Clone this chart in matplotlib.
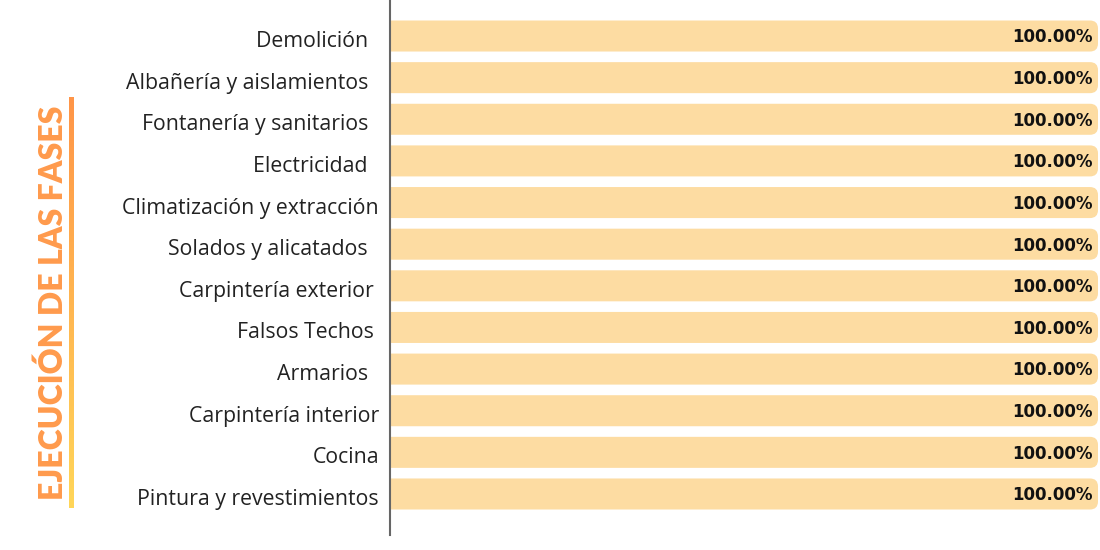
import numpy as np
import matplotlib
matplotlib.use("Agg")
import matplotlib.pyplot as plt
import matplotlib.transforms as mtransforms
from matplotlib.patches import FancyBboxPatch

# fases de la obra y su porcentaje de ejecucion
fases = ["Demolición  ", "Albañería y aislamientos  ", "Fontanería y sanitarios  ",
         "Electricidad  ", "Climatización y extracción", "Solados y alicatados  ",
         "Carpintería exterior ", "Falsos Techos ", "Armarios  ",
         "Carpintería interior", "Cocina", "Pintura y revestimientos"]
ejecucion = [100, 100, 100, 100, 100, 100, 100, 100, 100, 100, 100, 100]

BAR_COLOR = "#FDDCA2"
TITLE_COLOR = "#FF9A4C"

fig = plt.figure(figsize=(11, 5.5), dpi=100)
fig.patch.set_facecolor("white")
ax = fig.add_axes([390 / 1100, 15 / 550, 708 / 1100, 535 / 550])

y = np.arange(len(fases))
bars = ax.barh(y, ejecucion, height=0.745, color=BAR_COLOR)
ax.set_xlim(0, 100)
ax.set_ylim(11.985, -0.865)

# barras con esquinas redondeadas (como en el original)
px_x = 100 / 708
px_y = (11.985 + 0.865) / 535
for b in bars:
    x0, y0, w, h = b.get_x(), b.get_y(), b.get_width(), b.get_height()
    r = 8 * px_x
    p = FancyBboxPatch((x0 - 3, y0), w + 3, h,
                       boxstyle="round,pad=0,rounding_size=%f" % r,
                       mutation_aspect=px_y / px_x,
                       facecolor=BAR_COLOR, edgecolor="none", clip_on=True)
    ax.add_patch(p)
    b.remove()

for yi, v in zip(y, ejecucion):
    ax.annotate("%.2f%%" % v, (v, yi), xytext=(-4, -1), textcoords="offset points",
                ha="right", va="center", fontsize=12, fontweight="bold",
                family=["DejaVu Sans"], color="#111111")

ax.set_yticks(y)
ax.set_yticklabels(fases, fontsize=15.3, family=["Open Sans", "DejaVu Sans"], color="#222222")
ax.tick_params(axis="y", length=0, pad=8)
shift = mtransforms.ScaledTranslation(0, -3 / 100, fig.dpi_scale_trans)
for lbl in ax.get_yticklabels():
    lbl.set_transform(lbl.get_transform() + shift)
ax.set_xticks([])
for s in ["top", "right", "bottom"]:
    ax.spines[s].set_visible(False)
ax.spines["left"].set_color("#666666")
ax.spines["left"].set_linewidth(1.5)

# titulo vertical con la linea degradada
fig.text(53 / 1100, 1 - 303 / 550, "EJECUCIÓN DE LAS FASES", rotation=90,
         ha="center", va="center", fontsize=23, fontweight="heavy",
         family=["Lato", "DejaVu Sans"], color=TITLE_COLOR)
lax = fig.add_axes([69 / 1100, 42 / 550, 5 / 1100, 411 / 550])
grad = np.linspace(0, 1, 256).reshape(-1, 1)
cmap = matplotlib.colors.LinearSegmentedColormap.from_list("g", ["#FF9548", "#FFD659"])
lax.imshow(grad, aspect="auto", cmap=cmap, extent=[0, 1, 0, 1], origin="upper")
lax.set_xlim(0.2, 0.8)
lax.axis("off")

fig.savefig("out.png", dpi=100)
